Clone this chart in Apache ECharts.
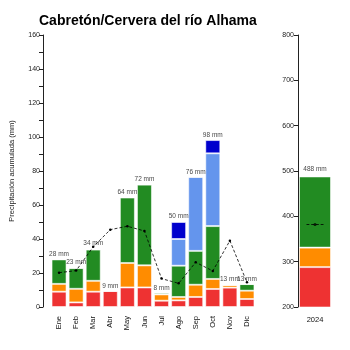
<!DOCTYPE html>
<html>
<head>
<meta charset="utf-8">
<script src="https://cdn.jsdelivr.net/npm/echarts@6/dist/echarts.min.js"></script>
<style>html,body{margin:0;padding:0;background:#fff;}#c{width:350px;height:350px;}</style>
</head>
<body>
<div id="c"></div>
<script>
const months = ['Ene','Feb','Mar','Abr','May','Jun','Jul','Ago','Sep','Oct','Nov','Dic'];
const redVals    = [9.0, 2.7, 9.0, 9.5, 11.5, 11.5, 3.7, 3.9, 5.9, 10.6, 11.4, 4.7];
const orangeVals = [4.6, 8.0, 6.4, 0,   14.4, 13.0, 3.7, 2.0, 7.2, 5.9,  1.6,  4.9];
const greenVals  = [14.4,12.3,18.4,0,   38.5, 47.5, 1.0, 18.4,19.9,31.1, 0,    3.9];
const lblueVals  = [0,   0,   0,   0,   0,    0,    0,   15.7,43.5,42.8, 0,    0];
const dblueVals  = [0,   0,   0,   0,   0,    0,    0,   10.0,0,   7.8,  0,    0];
const totals     = [28, 23, 34, 9, 64, 72, 8, 50, 76, 98, 13, 13];
const meanLine   = [20.2, 21.4, 35.4, 45.5, 47.5, 44.7, 16.7, 13.9, 26.3, 21.2, 39.0, 14.5];

const years        = ['2024'];
const annualRed    = [288];
const annualOrange = [43];
const annualGreen  = [157];
const annualTotal  = [488];
const annualMean   = [382];

const leftTicks  = {min: 0, max: 160, interval: 20};
const rightTicks = {min: 200, max: 800, interval: 100};

const FONT = 'Liberation Sans, Arial, sans-serif';
const C = {red:'#EE3232', orange:'#FF8C00', green:'#228B22', lblue:'#6495ED', dblue:'#0000CD'};
const border = {borderColor:'rgba(255,255,255,0.55)', borderWidth:1};

function barSeries(name, data, color, xi, yi, stack, bw){
  return {name, type:'bar', xAxisIndex:xi, yAxisIndex:yi, stack, data, barWidth:bw,
    itemStyle:Object.assign({color}, border), silent:true, animation:false};
}

const chart = echarts.init(document.getElementById('c'), null, {renderer:'canvas'});
chart.setOption({
  animation:false,
  backgroundColor:'#fff',
  textStyle:{fontFamily:FONT},
  title:{text:'Cabretón/Cervera del río Alhama', left:34, top:9,
    textStyle:{fontSize:14, fontWeight:'bold', color:'#000', fontFamily:FONT}},
  grid:[
    {left:40.5, top:35, width:215, height:272},
    {left:298, top:35, width:34, height:272}
  ],
  xAxis:[
    {type:'category', gridIndex:0, data:months, axisLine:{show:false}, axisTick:{show:false},
      axisLabel:{rotate:90, margin:9, fontSize:7.5, color:'#111', fontFamily:FONT}},
    {type:'category', gridIndex:1, data:years, axisLine:{show:false}, axisTick:{show:false},
      axisLabel:{margin:9, fontSize:7.5, color:'#111', fontFamily:FONT}}
  ],
  yAxis:[
    {type:'value', gridIndex:0, min:leftTicks.min, max:leftTicks.max, interval:leftTicks.interval, offset:7.5,
      name:'Precipitación acumulada (mm)', nameLocation:'middle', nameGap:27,
      nameTextStyle:{fontSize:7.5, color:'#222', fontFamily:FONT},
      axisLine:{show:true, lineStyle:{color:'#222', width:1}},
      axisTick:{show:true, length:4, lineStyle:{color:'#222'}},
      minorTick:{show:true, splitNumber:2, length:4, lineStyle:{color:'#222'}},
      axisLabel:{fontSize:7, color:'#222', margin:3, fontFamily:FONT},
      splitLine:{show:false}},
    {type:'value', gridIndex:1, min:rightTicks.min, max:rightTicks.max, interval:rightTicks.interval,
      axisLine:{show:true, lineStyle:{color:'#222', width:1}},
      axisTick:{show:true, length:4, lineStyle:{color:'#222'}},
      axisLabel:{fontSize:7, color:'#222', margin:4, fontFamily:FONT},
      splitLine:{show:false}}
  ],
  series:[
    barSeries('r', redVals, C.red, 0, 0, 'm', 15),
    barSeries('o', orangeVals, C.orange, 0, 0, 'm', 15),
    barSeries('g', greenVals, C.green, 0, 0, 'm', 15),
    barSeries('lb', lblueVals, C.lblue, 0, 0, 'm', 15),
    barSeries('db', dblueVals, C.dblue, 0, 0, 'm', 15),
    {type:'scatter', xAxisIndex:0, yAxisIndex:0, data:totals, symbolSize:0, silent:true, z:5,
      label:{show:true, position:'top', distance:2, fontSize:6.5, color:'#111', fontFamily:FONT,
        formatter:p => p.value + ' mm'}},
    {type:'line', xAxisIndex:0, yAxisIndex:0, data:meanLine, z:6, silent:true,
      lineStyle:{color:'#000', width:0.8, type:[3,2]},
      symbol:'circle', symbolSize:2.5, itemStyle:{color:'#000'}},
    barSeries('ar', annualRed, C.red, 1, 1, 'a', 32),
    barSeries('ao', annualOrange, C.orange, 1, 1, 'a', 32),
    barSeries('ag', annualGreen, C.green, 1, 1, 'a', 32),
    {type:'scatter', xAxisIndex:1, yAxisIndex:1, data:annualTotal, symbolSize:0, silent:true, z:5,
      label:{show:true, position:'top', distance:4, fontSize:6.5, color:'#111', fontFamily:FONT,
        formatter:p => p.value + ' mm'}},
    {type:'scatter', xAxisIndex:1, yAxisIndex:1, data:annualMean, silent:true, z:6,
      symbol:'path://M0,0H3V1H0ZM5,0H8V1H5ZM10,0H13V1H10ZM15,0H18V1H15Z', symbolSize:[17,0.8],
      itemStyle:{color:'#000'}},
    {type:'scatter', xAxisIndex:1, yAxisIndex:1, data:annualMean, silent:true, z:7,
      symbol:'circle', symbolSize:3, itemStyle:{color:'#000'}}
  ]
});
</script>
</body>
</html>
